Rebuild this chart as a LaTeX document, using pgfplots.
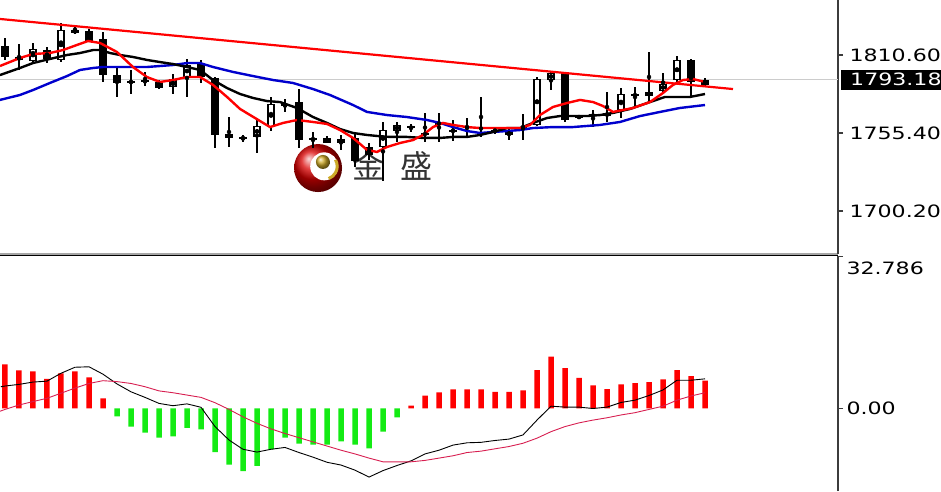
\documentclass[border=0pt]{standalone}
\usepackage{pgfplots}
\pgfplotsset{compat=1.18}
\usepackage{pgfplotstable}
\usepackage{fontspec}
\setmainfont{DejaVu Sans}
\newfontfamily\lblfont[FakeStretch=1.3]{DejaVu Sans}
\newfontfamily\cjk{Noto Sans CJK SC}
\definecolor{maRed}{RGB}{255,0,0}
\definecolor{maBlue}{RGB}{0,0,205}
\definecolor{sigc}{RGB}{215,30,80}
\definecolor{hred}{RGB}{255,0,0}
\definecolor{hgreen}{RGB}{20,235,20}
\definecolor{goldc}{RGB}{205,170,40}
\definecolor{axc}{RGB}{60,60,60}

\pgfplotstableread{
i o h l c
2 1806.3 1819.1 1804.9 1814.8
4 1807.1 1833.2 1805.6 1828.3
12 1787.9 1797.1 1783.0 1793.6
13 1795.0 1807.8 1780.9 1803.5
18 1752.6 1766.0 1741.2 1760.4
19 1759.6 1780.9 1756.8 1776.0
24 1748.3 1754.0 1743.4 1751.2
27 1745.5 1763.2 1721.4 1757.5
28 1756.8 1763.2 1749.0 1761.1
36 1754.0 1758.9 1750.4 1756.1
38 1761.1 1795.0 1760.4 1793.6
39 1792.9 1799.3 1785.8 1797.9
43 1767.4 1784.4 1763.2 1769.5
44 1771.7 1787.2 1766.0 1783.0
46 1781.6 1812.7 1777.3 1784.4
47 1785.1 1797.9 1784.4 1790.1
48 1792.9 1809.9 1790.8 1807.1
50 1789.4 1794.3 1788.7 1793.18
}\bull

\pgfplotstableread{
i o h l c
0 1817.0 1822.6 1807.1 1809.2
1 1809.2 1818.4 1800.0 1807.1
3 1814.1 1816.3 1804.9 1807.8
5 1828.3 1831.8 1825.5 1826.2
6 1827.6 1829.0 1819.8 1820.5
7 1821.9 1826.9 1791.5 1796.4
8 1796.4 1802.1 1780.9 1790.8
9 1792.2 1800.0 1783.0 1790.8
10 1792.6 1798.6 1788.7 1791.2
11 1791.5 1792.9 1786.5 1787.2
14 1804.9 1807.1 1790.8 1795.0
15 1794.3 1795.0 1744.8 1754.0
16 1754.7 1766.7 1745.5 1751.9
17 1752.6 1754.0 1749.0 1751.2
20 1775.6 1779.5 1770.3 1774.2
21 1777.3 1786.5 1744.8 1750.4
22 1751.9 1756.1 1744.8 1750.4
23 1751.9 1753.3 1748.0 1748.3
25 1751.9 1755.4 1731.3 1735.6
26 1745.5 1748.3 1736.3 1739.8
29 1760.0 1761.8 1756.1 1758.6
30 1755.4 1769.5 1749.0 1754.0
31 1763.2 1769.5 1749.0 1761.1
32 1757.5 1764.6 1749.7 1756.1
33 1760.4 1766.0 1751.9 1758.9
34 1759.3 1780.9 1752.6 1757.9
35 1757.5 1759.6 1754.7 1756.1
37 1759.3 1768.8 1750.4 1757.9
40 1797.9 1798.6 1763.2 1764.6
41 1767.4 1768.1 1765.3 1766.0
42 1768.5 1771.7 1759.6 1767.1
45 1783.0 1787.9 1773.8 1781.6
49 1807.1 1807.8 1780.9 1791.5
}\bear

\pgfplotsset{
  wick/.style={only marks, mark=none, forget plot,
    error bars/.cd, y dir=both, y explicit, error mark=none,
    error bar style={draw=black, solid, line width=1.4pt}},
  body/.style={only marks, mark=none, forget plot,
    error bars/.cd, y dir=both, y explicit, error mark=none,
    error bar style={draw=#1, solid, line width=7.5pt}},
}

\begin{document}
\begin{tikzpicture}
% ---------------- price panel ----------------
\begin{axis}[
  at={(0pt,237pt)}, anchor=south west, scale only axis,
  width=838pt, height=254pt,
  xmin=-0.357, xmax=59.5, ymin=1669.76, ymax=1849.52,
  axis x line*=bottom, axis y line*=right,
  x axis line style={-, draw=gray!70, line width=1.5pt},
  y axis line style={-, draw=axc, line width=2pt},
  xtick=\empty,
  ytick={1700.2,1755.4,1810.6},
  yticklabels={1700.20,1755.40,1810.60},
  tick align=outside, major tick length=5pt,
  tick style={axc, line width=1.5pt},
  yticklabel style={font=\lblfont\fontsize{17}{17}\selectfont, anchor=west, text=black, xshift=3pt},
  extra y ticks={1793.18},
  extra y tick labels={1793.18},
  extra y tick style={major tick length=0pt,
    yticklabel style={fill=black, text=white, text width=90pt, align=left,
      inner xsep=9pt, minimum height=20pt, anchor=west}},
]
% watermark logo
\shade[ball color=red!85!black] (axis cs:22.36,1730.6) circle[radius=24pt];
\fill[white] (axis cs:22.8,1731.8) circle[radius=14pt];
\shade[ball color=goldc] (axis cs:22.71,1734.9) circle[radius=7pt];
\draw[goldc, line width=3pt] (axis cs:22.8,1731.8) ++(30:13pt) arc[start angle=30, end angle=-70, radius=13pt];
\node[text=black!80, font=\cjk\fontsize{32}{32}\selectfont] at (axis cs:25.96,1732.0) {金};
\node[text=black!80, font=\cjk\fontsize{32}{32}\selectfont] at (axis cs:29.36,1732.0) {盛};

% current price line
\addplot[gray!40, line width=1pt, forget plot] coordinates {(-0.357,1793.18) (59.5,1793.18)};

% wicks
\addplot[wick] table[x=i, y expr={(\thisrow{h}+\thisrow{l})/2}, y error expr={(\thisrow{h}-\thisrow{l})/2}] {\bull};
\addplot[wick] table[x=i, y expr={(\thisrow{h}+\thisrow{l})/2}, y error expr={(\thisrow{h}-\thisrow{l})/2}] {\bear};
% bodies
\addplot[body=black] table[x=i, y expr={(\thisrow{o}+\thisrow{c})/2}, y error expr={max(abs(\thisrow{o}-\thisrow{c})/2,0.7)}] {\bear};
\addplot[body=black] table[x=i, y expr={(\thisrow{o}+\thisrow{c})/2}, y error expr={max(abs(\thisrow{o}-\thisrow{c})/2,0.7)}] {\bull};
\addplot[only marks, mark=none, forget plot,
    error bars/.cd, y dir=both, y explicit, error mark=none,
    error bar style={draw=white, solid, line width=4.8pt}]
  table[x=i, y expr={(\thisrow{o}+\thisrow{c})/2}, y error expr={max(abs(\thisrow{o}-\thisrow{c})/2-0.9,0)}] {\bull};

% moving averages
\addplot[maBlue, line width=2.4pt] coordinates {
(-0.36,1778.8)(1.07,1782.3)(2,1785.8)(3.21,1790.8)(4.43,1795.7)(5.36,1800.0)(6.29,1801.4)(7,1802.1)(10.14,1802.1)(11.07,1802.8)(12,1803.5)(13,1804.9)(13.93,1804.9)(14.86,1802.1)(16.29,1798.6)(17.71,1795.7)(19.14,1792.9)(20.57,1790.8)(22,1786.5)(23.21,1782.3)(24.86,1775.2)(25.86,1770.3)(27.29,1768.1)(28.71,1766.7)(30.14,1764.6)(31.07,1762.5)(32,1759.6)(33,1756.8)(33.93,1755.4)(34.86,1756.1)(35.86,1756.8)(36.79,1757.5)(37.71,1758.9)(39.14,1759.6)(40.57,1759.6)(42.5,1761.1)(43.93,1763.2)(45.36,1767.4)(46.79,1770.3)(48.21,1773.1)(50,1775.2)};
\addplot[black, line width=2.4pt] coordinates {
(-0.36,1796.4)(1.07,1801.4)(2,1804.9)(3.21,1807.8)(4.43,1810.6)(5.36,1812.0)(6.29,1814.1)(6.79,1814.1)(7.5,1812.0)(8.21,1810.6)(9.14,1809.2)(10.14,1807.1)(11.07,1805.6)(12,1804.2)(13,1802.1)(13.93,1800.0)(14.86,1792.9)(15.86,1787.2)(16.79,1783.0)(17.71,1780.2)(18.71,1778.0)(19.64,1777.3)(20.86,1773.1)(22,1766.7)(23,1762.5)(23.93,1758.2)(24.86,1755.4)(25.86,1754.0)(26.57,1753.3)(27.5,1752.6)(28.71,1752.6)(29.86,1751.9)(31.07,1751.9)(32,1752.6)(33,1752.6)(33.93,1754.0)(34.86,1756.1)(35.86,1758.9)(36.79,1758.9)(37.71,1762.5)(38.71,1766.0)(39.64,1767.4)(40.57,1767.4)(41.57,1767.4)(42.5,1768.1)(43.43,1769.6)(44.64,1772.4)(46.07,1777.3)(47.14,1780.9)(48.93,1780.9)(50,1783.0)};
\addplot[maRed, line width=2.4pt] coordinates {
(-0.36,1802.8)(1.07,1808.5)(2,1811.3)(3.21,1812.0)(4.14,1814.1)(5.14,1817.7)(5.93,1820.5)(6.79,1819.1)(8,1812.7)(9.14,1802.1)(10.14,1795.0)(11.07,1791.5)(12,1792.9)(13,1795.0)(13.93,1795.0)(14.86,1789.4)(15.86,1780.9)(16.79,1772.4)(17.86,1766.0)(18.93,1759.6)(19.86,1762.5)(20.86,1764.6)(22,1763.2)(23,1761.8)(23.93,1757.5)(24.86,1751.9)(25.86,1743.4)(26.57,1742.0)(27.29,1745.5)(28.21,1748.3)(29.14,1750.4)(29.86,1754.0)(30.57,1759.6)(31.29,1762.5)(32,1761.1)(33,1759.6)(33.93,1758.9)(34.86,1758.9)(35.86,1758.9)(36.79,1758.9)(37.5,1761.1)(38.21,1768.1)(39.14,1773.8)(40.14,1776.6)(41.07,1778.8)(42,1777.3)(42.71,1774.5)(43.43,1770.3)(44.86,1773.1)(46.07,1777.3)(47,1783.7)(47.71,1789.4)(48.43,1792.9)(49.14,1793.6)(50,1791.5)};
% trend line
\addplot[maRed, line width=2.2pt] coordinates {(-0.36,1836.1)(52,1786.5)};
\end{axis}

% ---------------- MACD panel ----------------
\begin{axis}[
  at={(0pt,0pt)}, anchor=south west, scale only axis,
  width=838pt, height=235pt,
  xmin=-0.357, xmax=59.5, ymin=-17.8, ymax=32.9,
  axis x line*=top, axis y line*=right,
  x axis line style={-, draw=black, line width=1pt},
  y axis line style={-, draw=axc, line width=2pt},
  xtick=\empty,
  ytick={0}, yticklabels={0.00},
  tick align=outside, major tick length=5pt,
  tick style={axc, line width=1.5pt},
  yticklabel style={font=\lblfont\fontsize{17}{17}\selectfont, anchor=west, text=black},
  extra y ticks={32.786}, extra y tick labels={32.786},
  extra y tick style={yticklabel style={yshift=-12pt}},
]
\addplot[ybar, bar width=5.5pt, bar shift=0pt, fill=hred, draw=none] coordinates {
(0,9.5)(1,8.2)(2,8.0)(3,6.4)(4,7.6)(5,8.0)(6,6.7)(7,2.2)(29,0.6)(30,2.8)(31,3.5)(32,4.1)(33,4.1)(34,4.1)(35,3.6)(36,3.6)(37,3.9)(38,8.3)(39,11.2)(40,8.7)(41,6.6)(42,5.0)(43,4.2)(44,5.2)(45,5.5)(46,5.7)(47,6.3)(48,8.3)(49,7.0)(50,6.0)};
\addplot[ybar, bar width=5.5pt, bar shift=0pt, fill=hgreen, draw=none] coordinates {
(8,-1.7)(9,-3.9)(10,-5.2)(11,-6.3)(12,-6.0)(13,-4.2)(14,-4.5)(15,-9.4)(16,-12.1)(17,-13.5)(18,-12.4)(19,-8.8)(20,-6.3)(21,-7.6)(22,-7.8)(23,-7.8)(24,-7.1)(25,-7.8)(26,-8.6)(27,-5.0)(28,-1.9)};
\addplot[black, line width=0.9pt] coordinates {
(-0.3,4.7)(0,4.85)(1,5.2)(2,5.7)(3,5.9)(4,7.6)(5,8.9)(6,9.0)(7,7.4)(8,5.3)(9,3.6)(10,2.4)(11,1.1)(12,0.6)(13,1.0)(14,0.26)(15,-3.9)(16,-6.8)(17,-8.8)(18,-9.4)(19,-8.8)(20,-8.4)(21,-9.5)(22,-10.5)(23,-11.6)(24,-12.2)(25,-13.3)(26,-14.8)(27,-13.4)(28,-12.3)(29,-11.3)(30,-9.8)(31,-9.0)(32,-7.9)(33,-7.4)(34,-7.3)(35,-6.9)(36,-6.6)(37,-5.7)(38,-2.5)(39,0.5)(40,0.3)(41,0.3)(42,0.0)(43,0.3)(44,1.3)(45,1.8)(46,2.8)(47,4.0)(48,6.1)(49,6.1)(50,6.4)};
\addplot[sigc, line width=0.9pt] coordinates {
(-0.357,-0.6)(0,-0.2)(1,0.75)(2,1.5)(3,2.2)(4,3.3)(5,4.4)(6,5.4)(7,6.0)(8,5.8)(9,5.4)(10,4.7)(11,3.8)(12,3.4)(13,2.9)(14,2.4)(15,1.25)(16,-0.2)(17,-1.8)(18,-3.2)(19,-4.4)(20,-5.4)(21,-6.3)(22,-7.2)(23,-8.1)(24,-9.0)(25,-9.8)(26,-10.7)(27,-11.5)(28,-11.5)(29,-11.5)(30,-11.2)(31,-10.7)(32,-10.2)(33,-9.5)(34,-9.2)(35,-8.7)(36,-8.2)(37,-7.5)(38,-6.4)(39,-5.0)(40,-3.9)(41,-3.1)(42,-2.5)(43,-2.0)(44,-1.4)(45,-0.9)(46,-0.2)(47,0.5)(48,1.8)(49,2.7)(50,3.4)};
\end{axis}
\pgfresetboundingbox
\path[use as bounding box] (0pt,0pt) rectangle (941pt,491pt);
\end{tikzpicture}
\end{document}
